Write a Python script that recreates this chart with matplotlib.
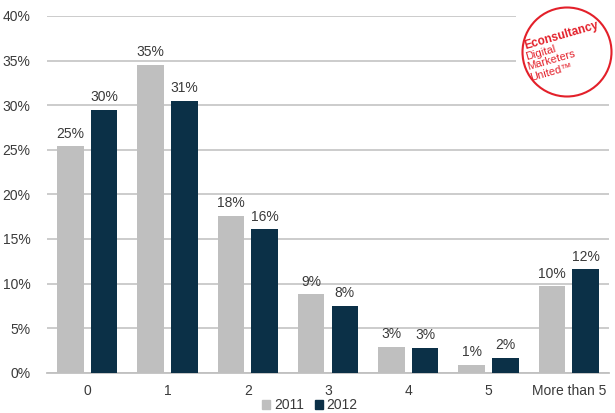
import matplotlib
matplotlib.use("Agg")
import matplotlib.pyplot as plt
from matplotlib.patches import Circle, Patch, Rectangle
import numpy as np

plt.rcParams['font.family'] = 'Liberation Sans'

categories = ["0", "1", "2", "3", "4", "5", "More than 5"]
series_names = ["2011", "2012"]
values_2011 = [25.4, 34.5, 17.6, 8.8, 2.9, 0.9, 9.7]
values_2012 = [29.5, 30.5, 16.1, 7.5, 2.8, 1.7, 11.6]
labels_2011 = ["25%", "35%", "18%", "9%", "3%", "1%", "10%"]
labels_2012 = ["30%", "31%", "16%", "8%", "3%", "2%", "12%"]
yticks = [0, 5, 10, 15, 20, 25, 30, 35, 40]
ytick_labels = ["0%", "5%", "10%", "15%", "20%", "25%", "30%", "35%", "40%"]

c2011 = "#bfbfbf"
c2012 = "#0b3047"
txt = "#3a3a3a"

W, H = 615, 413
fig = plt.figure(figsize=(W / 100, H / 100), dpi=100)
ax = fig.add_axes([47 / W, (H - 372.7) / H, (609 - 47) / W, (372.7 - 16) / H])

x = np.arange(len(categories))
w = 0.33
off = 0.21
b1 = ax.bar(x - off, values_2011, w, color=c2011, zorder=3)
b2 = ax.bar(x + off, values_2012, w, color=c2012, zorder=3)
for rect, lab in zip(b1, labels_2011):
    ax.annotate(lab, (rect.get_x() + rect.get_width() / 2, rect.get_height()),
                xytext=(0, 4), textcoords="offset points", ha="center", va="bottom",
                fontsize=10, color=txt)
for rect, lab in zip(b2, labels_2012):
    ax.annotate(lab, (rect.get_x() + rect.get_width() / 2, rect.get_height()),
                xytext=(0, 4), textcoords="offset points", ha="center", va="bottom",
                fontsize=10, color=txt)

ax.set_xlim(-0.5, len(categories) - 0.5)
ax.set_ylim(0, 40)
ax.set_yticks(yticks)
ax.set_yticklabels(ytick_labels)
ax.set_xticks(x)
ax.set_xticklabels(categories)
ax.tick_params(axis="both", length=0, labelsize=10, labelcolor=txt)
ax.tick_params(axis="y", pad=12)
ax.tick_params(axis="x", pad=8)
ax.yaxis.grid(True, color="#c8c8c8", linewidth=1.3, zorder=0)
ax.set_axisbelow(True)
for s in ["top", "right", "left"]:
    ax.spines[s].set_visible(False)
ax.spines["bottom"].set_color("#c0c0c0")
ax.spines["bottom"].set_linewidth(1.3)

handles = [Patch(color=c2011, label=series_names[0]), Patch(color=c2012, label=series_names[1])]
fig.legend(handles=handles, loc="center", bbox_to_anchor=(310 / W, (H - 405) / H), ncol=2,
           frameon=False, fontsize=10, handlelength=0.6, handleheight=0.6,
           handletextpad=0.25, columnspacing=0.8, labelcolor=txt)

# logo (axes in pixel units: 99 x 102 px)
lax = fig.add_axes([516 / W, (H - 102) / H, 99 / W, 102 / H])
lax.set_xlim(516, 615)
lax.set_ylim(102, 0)
lax.axis("off")
lax.add_patch(Rectangle((516, 0), 99, 102, facecolor="white", edgecolor="none", zorder=0))
red = "#e3202a"
lax.add_patch(Circle((567, 52), 44.5, facecolor="white", edgecolor=red, linewidth=1.5, zorder=1))
lax.text(525, 49, "Econsultancy", rotation=16, fontsize=8.5, fontweight="bold", color=red,
         ha="left", va="baseline", rotation_mode="anchor", zorder=2)
lax.text(527, 60, "Digital", rotation=16, fontsize=8, color=red,
         ha="left", va="baseline", rotation_mode="anchor", zorder=2)
lax.text(528, 70.5, "Marketers", rotation=16, fontsize=8, color=red,
         ha="left", va="baseline", rotation_mode="anchor", zorder=2)
lax.text(531, 81, "United\u2122", rotation=16, fontsize=8, color=red,
         ha="left", va="baseline", rotation_mode="anchor", zorder=2)

fig.savefig("out.png", dpi=100, facecolor="white")
